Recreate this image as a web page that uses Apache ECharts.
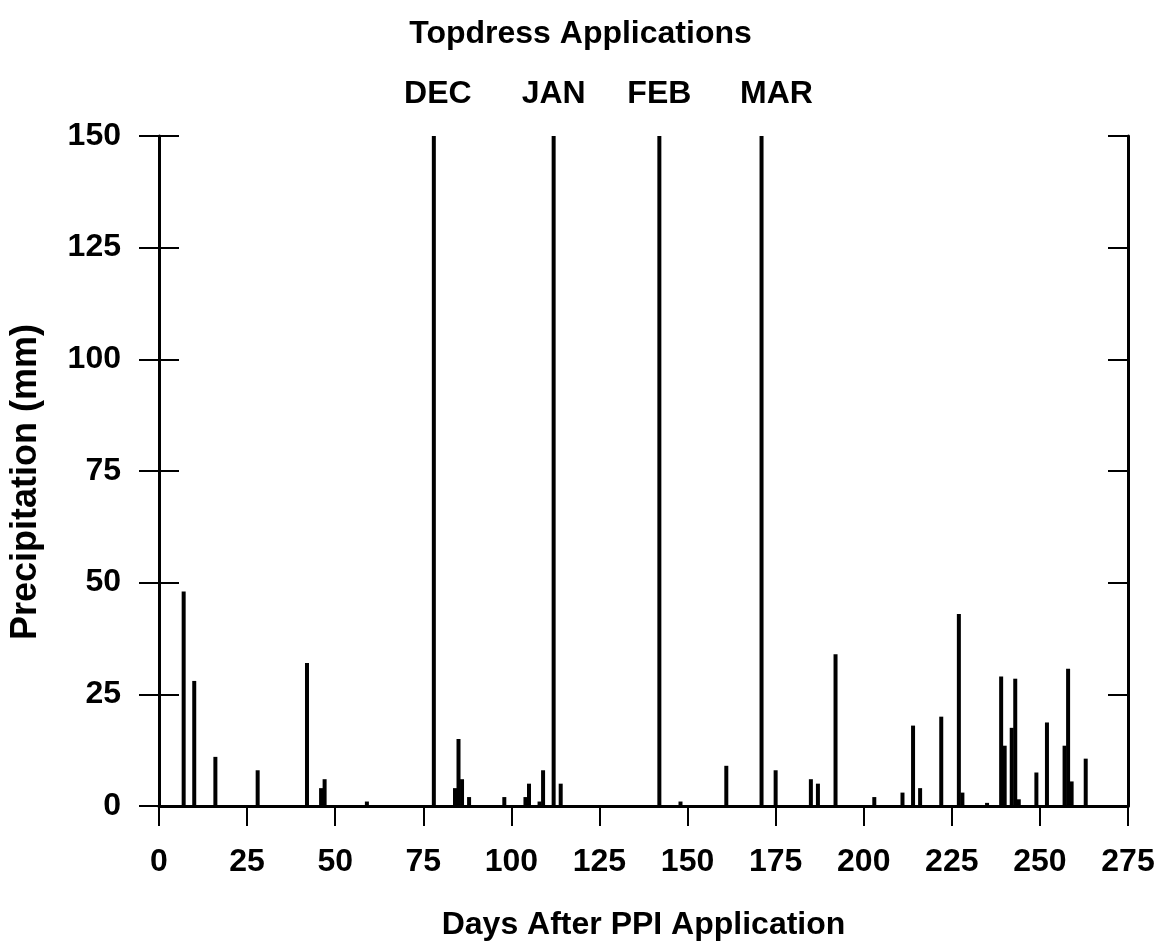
<!DOCTYPE html>
<html>
<head>
<meta charset="utf-8">
<script src="https://cdn.jsdelivr.net/npm/echarts@6/dist/echarts.min.js"></script>
<style>
html,body{margin:0;padding:0;background:#fff;}
#chart{width:1161px;height:946px;}
</style>
</head>
<body>
<div id="chart"></div>
<script>
// Precipitation events (day after PPI application, mm)
const rainDays = [7,10,16,28,42,46,47,59,84,85,86,88,98,104,105,108,109,114,148,161,175,185,187,192,203,211,214,216,222,227,228,235,239,240,242,243,244,249,252,257,258,259,263];
const rainMm   = [48,28,11,8,32,4,6,1,4,15,6,2,2,2,5,1,8,5,1,9,8,6,5,34,2,3,18,4,20,43,3,0.7,29,13.5,17.5,28.5,1.5,7.5,18.7,13.5,30.7,5.5,10.6];
// Topdress application markers
const topDays   = [78,112,142,171];
const topLabels = ['DEC','JAN','FEB','MAR'];
const topHeight = 150;
// Axis ticks
const xTicks = {min:0, max:275, interval:25};
const yTicks = {min:0, max:150, interval:25};

const FONT = 'Liberation Sans';
const txt = {fontFamily:FONT, fontWeight:'bold', fontSize:32, color:'#000'};

const rainData = rainDays.map((d,i)=>[d, rainMm[i]]);
const topData = topDays.map((d,i)=>({
  value:[d, topHeight],
  label:{formatter: topLabels[i], offset: i===3 ? [15,0] : (i===0 ? [4,0] : [0,0])}
}));

const chart = echarts.init(document.getElementById('chart'), null, {renderer:'canvas'});
chart.setOption({
  animation:false,
  backgroundColor:'#fff',
  title:{
    text:'Topdress Applications',
    left:'center', top:13,
    textStyle:{fontFamily:FONT, fontWeight:'bold', fontSize:32, color:'#000'}
  },
  grid:{left:158, right:33, top:136, bottom:138, containLabel:false},
  xAxis:{
    type:'value', min:xTicks.min, max:xTicks.max, interval:xTicks.interval,
    name:'Days After PPI Application', nameLocation:'middle', nameGap:103,
    nameTextStyle:txt,
    axisLine:{show:true, onZero:false, lineStyle:{color:'#000', width:3}},
    axisTick:{show:true, inside:false, length:20, lineStyle:{color:'#000', width:2}},
    axisLabel:{...txt, margin:40},
    splitLine:{show:false}
  },
  yAxis:[
    {
      type:'value', position:'left', min:yTicks.min, max:yTicks.max, interval:yTicks.interval,
      name:'Precipitation (mm)', nameLocation:'middle', nameGap:115,
      nameTextStyle:{...txt, fontSize:36, padding:[0,22,0,0]},
      axisLine:{show:true, onZero:false, lineStyle:{color:'#000', width:3}},
      axisTick:{show:true, inside:false, length:20, lineStyle:{color:'#000', width:2}},
      axisLabel:{...txt, margin:38},
      splitLine:{show:false}
    },
    {
      type:'value', position:'left', min:yTicks.min, max:yTicks.max, interval:yTicks.interval,
      axisLine:{show:false},
      axisTick:{show:true, inside:true, length:20, lineStyle:{color:'#000', width:2}},
      axisLabel:{show:false},
      splitLine:{show:false}
    },
    {
      type:'value', position:'right', min:yTicks.min, max:yTicks.max, interval:yTicks.interval,
      axisLine:{show:true, onZero:false, lineStyle:{color:'#000', width:3}},
      axisTick:{show:true, inside:true, length:20, lineStyle:{color:'#000', width:2}},
      axisLabel:{show:false},
      splitLine:{show:false}
    }
  ],
  series:[
    {
      name:'Precipitation', type:'bar', yAxisIndex:0,
      data:rainData, barWidth:4, barGap:'-100%',
      itemStyle:{color:'#000'}
    },
    {
      name:'Topdress', type:'bar', yAxisIndex:0,
      data:topData, barWidth:4, barGap:'-100%',
      itemStyle:{color:'#000'},
      label:{show:true, position:'top', distance:26, ...txt, fontSize:32}
    }
  ]
});
</script>
</body>
</html>
